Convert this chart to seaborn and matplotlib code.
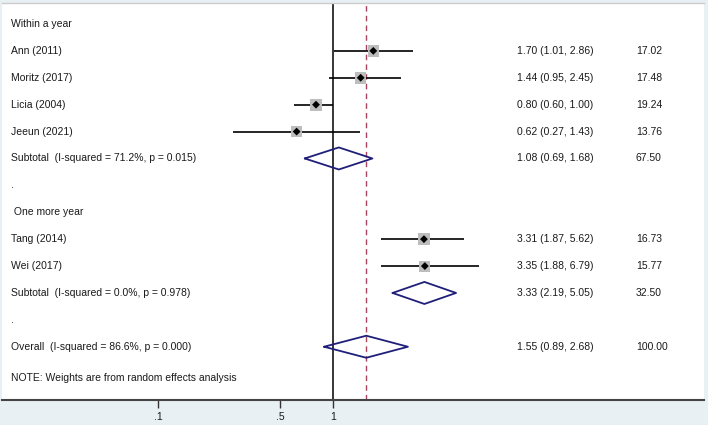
import numpy as np
import matplotlib
matplotlib.use("Agg")
import matplotlib.pyplot as plt
import seaborn as sns

# rows of the forest plot (top to bottom)
row_labels = ["Within a year", "Ann (2011)", "Moritz (2017)", "Licia (2004)", "Jeeun (2021)",
              "Subtotal  (I-squared = 71.2%, p = 0.015)", ".", " One more year",
              "Tang (2014)", "Wei (2017)", "Subtotal  (I-squared = 0.0%, p = 0.978)", ".",
              "Overall  (I-squared = 86.6%, p = 0.000)"]
note = "NOTE: Weights are from random effects analysis"

# individual studies
study_rows = [1, 2, 3, 4, 8, 9]
study_es = [1.70, 1.44, 0.80, 0.62, 3.31, 3.35]
study_lo = [1.01, 0.95, 0.60, 0.27, 1.87, 1.88]
study_hi = [2.86, 2.45, 1.00, 1.43, 5.62, 6.79]
study_w = [17.02, 17.48, 19.24, 13.76, 16.73, 15.77]

# pooled estimates (subtotals + overall)
pool_rows = [5, 10, 12]
pool_es = [1.08, 3.33, 1.55]
pool_lo = [0.69, 2.19, 0.89]
pool_hi = [1.68, 5.05, 2.68]
pool_w = [67.50, 32.50, 100.00]

xticks = [0.1, 0.5, 1]
xticklabels = [".1", ".5", "1"]

sns.set_theme(style="white")
plt.rcParams["font.family"] = ["Liberation Sans", "DejaVu Sans"]
fs = 7.5
tcol = "#1a1a1a"

fig = plt.figure(figsize=(7.08, 4.25), dpi=100)
fig.patch.set_facecolor("#e9f0f3")
ax = fig.add_axes([2 / 708, 25 / 425, 702 / 708, 397 / 425])
ax.set_facecolor("white")
ax.set_xscale("log")
ax.set_xlim(10 ** -1.891, 10 ** 2.12)
ax.set_ylim(13.98, -0.78)

# reference lines
ax.axvline(1, color="black", lw=1.1, zorder=1)
ax.axvline(pool_es[-1], color="#a8455e", lw=1.0, ls=(0, (4, 3)), zorder=1)

# CI lines
ax.hlines(study_rows, study_lo, study_hi, color="black", lw=1.2, zorder=2)
# weight squares + point estimates
sns.scatterplot(x=study_es, y=study_rows, size=study_w, sizes=(4 * min(study_w), 4 * max(study_w)),
                marker="s", color="#bdbdbd", edgecolor="none", legend=False, ax=ax, zorder=3)
sns.scatterplot(x=study_es, y=study_rows, marker="D", s=16, color="black", edgecolor="none",
                legend=False, ax=ax, zorder=4)

# diamonds
for r, es, lo, hi in zip(pool_rows, pool_es, pool_lo, pool_hi):
    ax.plot([lo, es, hi, es, lo], [r, r - 0.41, r, r + 0.41, r], color="#1f1f7a", lw=1.3, zorder=3)

# text columns
ytr = ax.get_yaxis_transform()
for i, lab in enumerate(row_labels):
    ax.text(0.0128, i, lab, transform=ytr, fontsize=fs, va="center", ha="left", color=tcol)
ax.text(0.0128, 13.16, note, transform=ytr, fontsize=fs, va="center", ha="left", color=tcol)

for r, es, lo, hi, w in zip(study_rows + pool_rows, study_es + pool_es, study_lo + pool_lo,
                            study_hi + pool_hi, study_w + pool_w):
    ax.text(0.7336, r, f"{es:.2f} ({lo:.2f}, {hi:.2f})", transform=ytr, fontsize=fs,
            va="center", ha="left", color=tcol)
    ax.text(0.903, r, f"{w:.2f}", transform=ytr, fontsize=fs, va="center", ha="left", color=tcol)

# axes styling
ax.set_xticks(xticks)
ax.set_xticklabels(xticklabels, fontsize=fs, color=tcol)
ax.xaxis.set_minor_locator(matplotlib.ticker.NullLocator())
ax.tick_params(axis="x", direction="out", length=6, width=1, color="#333333", pad=3, bottom=True)
ax.set_yticks([])
for s in ["left", "right"]:
    ax.spines[s].set_visible(False)
ax.spines["top"].set_color("#cccccc")
ax.spines["top"].set_linewidth(1)
ax.spines["bottom"].set_color("#444444")
ax.spines["bottom"].set_linewidth(1.5)

fig.savefig("out.png", dpi=100, facecolor=fig.get_facecolor())
